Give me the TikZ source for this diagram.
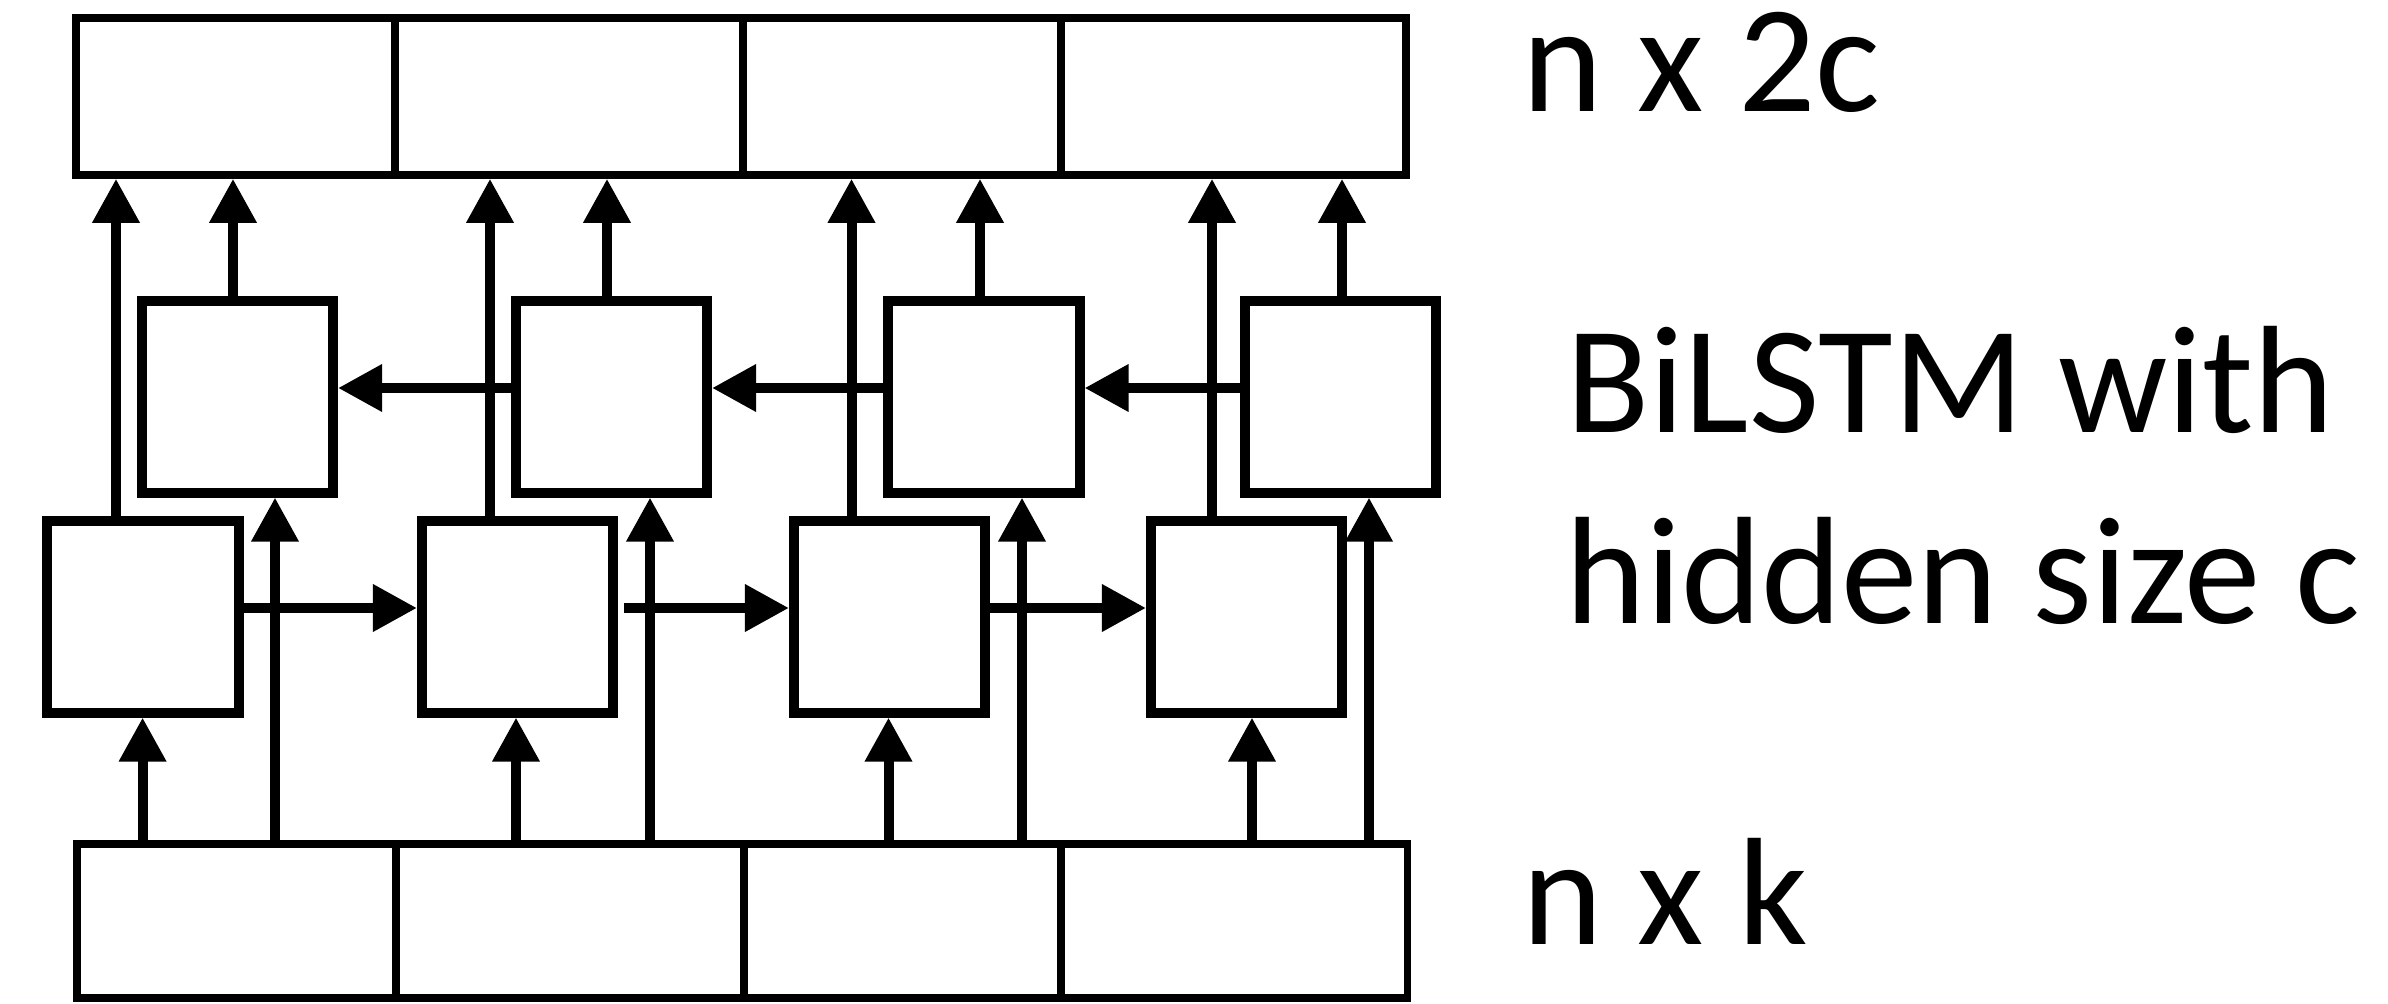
\documentclass[tikz,border=0pt]{standalone}
\usepackage{fontspec}
\setmainfont{Carlito}
\usetikzlibrary{arrows.meta,calc}
\begin{document}
\begin{tikzpicture}[x=0.01cm,y=-0.01cm,
  cell/.style={draw,line width=0.075cm,minimum height=#1,inner sep=0pt},
  lstm/.style={draw,line width=0.1cm,minimum width=1.91cm,minimum height=1.91cm,inner sep=0pt},
  arr/.style={line width=0.1cm,-{Triangle[length=0.44cm,width=0.45cm]}},
  lbl/.style={anchor=base west,inner sep=0pt,font=\fontsize{43.5pt}{54pt}\selectfont}]
\useasboundingbox (0,0) rectangle (2388,1003);
% output matrix n x 2c
\node[cell=1.57cm,minimum width=3.19cm] (t1) at (235.5,96.5) {};
\node[cell=1.57cm,minimum width=3.48cm] (t2) at (569,96.5) {};
\node[cell=1.57cm,minimum width=3.18cm] (t3) at (902,96.5) {};
\node[cell=1.57cm,minimum width=3.45cm] (t4) at (1233.5,96.5) {};
% input matrix n x k
\node[cell=1.54cm,minimum width=3.19cm] (b1) at (236.5,921) {};
\node[cell=1.54cm,minimum width=3.48cm] (b2) at (570,921) {};
\node[cell=1.54cm,minimum width=3.17cm] (b3) at (902.5,921) {};
\node[cell=1.54cm,minimum width=3.465cm] (b4) at (1234.25,921) {};
% backward LSTM cells
\node[lstm] (u1) at (237.5,397) {};
\node[lstm] (u2) at (611.5,397) {};
\node[lstm] (u3) at (984,397) {};
\node[lstm] (u4) at (1340.5,397) {};
% forward LSTM cells
\node[lstm] (l1) at (143,617) {};
\node[lstm] (l2) at (517.5,617) {};
\node[lstm] (l3) at (889.5,617) {};
\node[lstm] (l4) at (1246.5,617) {};
% forward recurrences
\draw[arr] (l1.east |- 0,608) -- (l2.west |- 0,608);
\draw[arr] ($(l2.east |- 0,608)+(6,0)$) -- (l3.west |- 0,608);
\draw[arr] (l3.east |- 0,608) -- (l4.west |- 0,608);
% backward recurrences
\draw[arr] (u2.west |- 0,388) -- (u1.east |- 0,388);
\draw[arr] (u3.west |- 0,388) -- (u2.east |- 0,388);
\draw[arr] (u4.west |- 0,388) -- (u3.east |- 0,388);
% inputs to forward cells
\draw[arr] (b1.north -| 142.6,0) -- (l1.south -| 142.6,0);
\draw[arr] (b2.north -| 516,0) -- (l2.south -| 516,0);
\draw[arr] (b3.north -| 888.5,0) -- (l3.south -| 888.5,0);
\draw[arr] (b4.north -| 1252,0) -- (l4.south -| 1252,0);
% inputs to backward cells
\draw[arr] (b1.north -| 275,0) -- (u1.south -| 275,0);
\draw[arr] (b2.north -| 650,0) -- (u2.south -| 650,0);
\draw[arr] (b3.north -| 1022,0) -- (u3.south -| 1022,0);
\draw[arr] (b4.north -| 1369,0) -- (u4.south -| 1369,0);
% forward outputs
\draw[arr] (l1.north -| 116,0) -- (t1.south -| 116,0);
\draw[arr] (l2.north -| 490,0) -- (t2.south -| 490,0);
\draw[arr] (l3.north -| 851.5,0) -- (t3.south -| 851.5,0);
\draw[arr] (l4.north -| 1212,0) -- (t4.south -| 1212,0);
% backward outputs
\draw[arr] (u1.north -| 233,0) -- (t1.south -| 233,0);
\draw[arr] (u2.north -| 607,0) -- (t2.south -| 607,0);
\draw[arr] (u3.north -| 980,0) -- (t3.south -| 980,0);
\draw[arr] (u4.north -| 1342,0) -- (t4.south -| 1342,0);
% labels
\node[lbl] (lout) at (1522,111) {n x 2c};
\node[lbl] (lbi1) at (1566,432) {BiLSTM with};
\node[lbl] (lbi2) at (1565,623) {hidden size c};
\node[lbl] (lin) at (1522,944) {n x k};
\end{tikzpicture}
\end{document}
